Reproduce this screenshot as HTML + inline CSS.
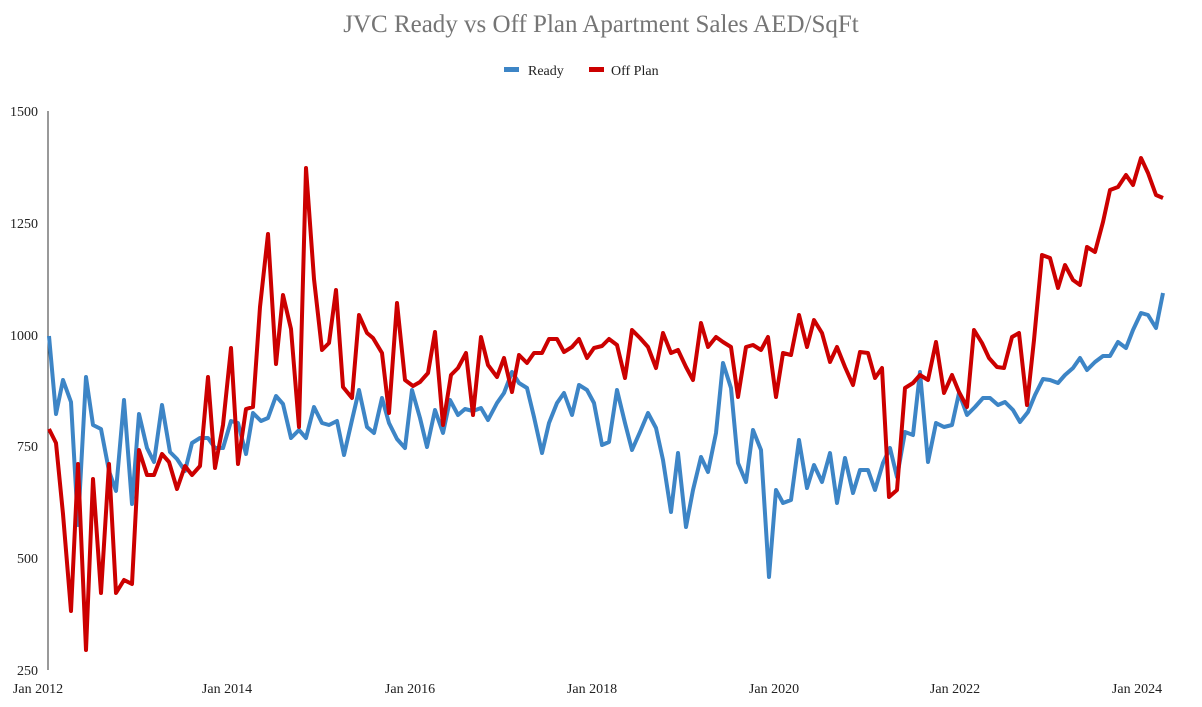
<!DOCTYPE html>
<html><head><meta charset="utf-8"><style>
body{margin:0;background:#fff;}
svg{display:block;font-family:"Liberation Serif",serif;}
</style></head><body>
<svg width="1202" height="707" viewBox="0 0 1202 707">
<text x="601" y="32" text-anchor="middle" font-size="25" fill="#757575">JVC Ready vs Off Plan Apartment Sales AED/SqFt</text>
<rect x="504" y="67" width="15" height="5" fill="#3d85c6"/>
<text x="528" y="75" font-size="14" fill="#222">Ready</text>
<rect x="589" y="67" width="15" height="5" fill="#cc0000"/>
<text x="611" y="75" font-size="14" fill="#222">Off Plan</text>
<line x1="48" y1="111" x2="48" y2="670" stroke="#333" stroke-width="1"/>
<g font-size="14" fill="#222" text-anchor="end">
<text x="38" y="116">1500</text>
<text x="38" y="228">1250</text>
<text x="38" y="340">1000</text>
<text x="38" y="451">750</text>
<text x="38" y="563">500</text>
<text x="38" y="675">250</text>
</g>
<g font-size="14" fill="#222" text-anchor="middle">
<text x="38" y="693">Jan 2012</text>
<text x="227" y="693">Jan 2014</text>
<text x="410" y="693">Jan 2016</text>
<text x="592" y="693">Jan 2018</text>
<text x="774" y="693">Jan 2020</text>
<text x="955" y="693">Jan 2022</text>
<text x="1137" y="693">Jan 2024</text>
</g>
<polyline fill="none" stroke="#3d85c6" stroke-width="4" stroke-linejoin="round" points="49,336 56,414 63,380 71,402 78,525 86,377 93,425 101,429 109,471 116,491 124,400 132,504 139,414 147,448 154,462 162,405 170,452 177,459 185,471 192,443 200,438 208,438 215,448 223,448 231,421 238,423 246,454 253,413 261,421 268,418 276,396 283,404 291,438 299,430 306,438 314,407 322,423 329,425 337,421 344,455 352,420 359,390 367,427 374,433 382,398 389,423 397,439 405,448 412,390 420,418 427,447 435,410 443,433 450,400 458,415 465,409 473,411 481,408 488,420 497,403 504,393 512,372 519,383 527,388 534,417 542,453 549,423 557,403 564,393 572,415 579,385 587,390 594,403 602,445 609,442 617,390 625,423 632,450 640,432 648,413 656,428 663,460 671,512 678,453 686,527 693,490 701,457 708,472 716,433 723,363 731,388 738,463 746,482 753,430 761,450 769,577 776,490 783,503 791,500 799,440 807,488 814,465 822,482 830,453 837,503 845,458 853,493 860,470 868,470 875,490 883,463 890,448 897,477 905,432 913,435 920,372 928,462 936,423 944,427 952,425 959,393 967,415 975,407 983,398 990,398 998,405 1005,402 1013,410 1020,422 1028,412 1035,395 1043,379 1050,380 1058,383 1065,375 1073,368 1080,358 1087,370 1095,362 1103,356 1110,356 1118,342 1126,348 1133,330 1141,313 1148,315 1156,328 1163,293"/>
<polyline fill="none" stroke="#cc0000" stroke-width="4" stroke-linejoin="round" points="49,429 56,443 63,514 71,611 78,464 86,650 93,479 101,593 109,464 116,593 124,580 132,584 139,450 147,475 154,475 162,454 169,462 177,489 185,466 192,475 200,466 208,377 215,468 223,425 231,348 238,464 246,409 253,407 260,307 268,234 276,364 283,295 291,329 299,427 306,168 314,279 322,350 329,343 336,290 343,387 352,398 359,315 367,333 373,338 382,353 389,413 397,303 405,380 413,386 420,382 428,373 435,332 443,425 451,375 458,368 466,353 473,415 481,337 488,365 497,377 504,358 512,392 519,355 527,363 534,353 542,353 549,339 557,339 564,352 572,347 579,339 587,358 594,348 602,346 609,339 617,345 625,378 632,330 640,338 648,347 656,368 663,333 671,353 678,350 686,367 693,380 701,323 708,347 716,337 723,342 731,347 738,397 746,347 753,345 761,350 768,337 776,397 783,353 791,355 799,315 807,347 814,320 822,333 830,362 837,347 845,367 853,385 860,352 868,353 875,378 882,368 889,497 897,490 905,388 913,383 920,375 928,380 936,342 944,393 952,375 959,392 967,407 974,330 982,343 989,358 997,367 1004,368 1012,337 1019,333 1027,405 1034,340 1042,255 1050,258 1058,288 1065,265 1073,280 1080,285 1087,247 1095,252 1103,222 1110,190 1118,187 1126,175 1133,185 1141,158 1148,173 1156,195 1163,198"/>
</svg>
</body></html>
